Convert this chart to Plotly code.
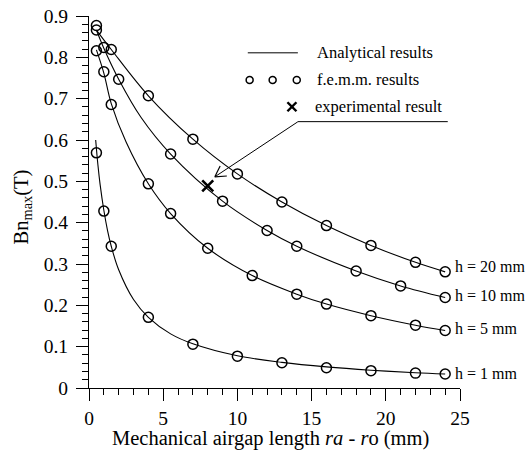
import plotly.graph_objects as go

# ---- data ----
# f.e.m.m. results
fem_x_h20 = [0.5, 1.5, 4, 7, 10, 13, 16, 19, 22, 24]
fem_y_h20 = [0.877, 0.819, 0.707, 0.602, 0.518, 0.450, 0.393, 0.345, 0.304, 0.281]
fem_x_h10 = [0.5, 1, 2, 5.5, 9, 12, 14, 18, 21, 24]
fem_y_h10 = [0.866, 0.824, 0.747, 0.566, 0.452, 0.381, 0.343, 0.283, 0.247, 0.219]
fem_x_h5 = [0.5, 1, 1.5, 4, 5.5, 8, 11, 14, 16, 19, 22, 24]
fem_y_h5 = [0.816, 0.765, 0.686, 0.494, 0.422, 0.338, 0.272, 0.227, 0.203, 0.175, 0.152, 0.139]
fem_x_h1 = [0.5, 1, 1.5, 4, 7, 10, 13, 16, 19, 22, 24]
fem_y_h1 = [0.569, 0.428, 0.343, 0.171, 0.106, 0.077, 0.061, 0.049, 0.042, 0.036, 0.034]

# analytical results
ana_x_h20 = [0.5, 1.5, 4, 7, 10, 13, 16, 19, 22, 24]
ana_y_h20 = [0.866, 0.819, 0.707, 0.602, 0.518, 0.450, 0.393, 0.345, 0.304, 0.281]
ana_x_h10 = [0.5, 1, 2, 3.5, 5.5, 9, 12, 14, 18, 21, 24]
ana_y_h10 = [0.866, 0.822, 0.747, 0.655, 0.566, 0.452, 0.381, 0.343, 0.283, 0.247, 0.219]
ana_x_h5 = [0.5, 1, 1.5, 2.5, 4, 5.5, 8, 11, 14, 16, 19, 22, 24]
ana_y_h5 = [0.818, 0.762, 0.688, 0.595, 0.494, 0.422, 0.338, 0.272, 0.227, 0.203, 0.175, 0.152, 0.139]
ana_x_h1 = [0.45, 0.6, 0.75, 1, 1.25, 1.5, 2, 3, 4, 5.5, 7, 10, 13, 16, 19, 22, 24]
ana_y_h1 = [0.600, 0.540, 0.492, 0.430, 0.381, 0.343, 0.286, 0.214, 0.171, 0.131, 0.107,
            0.078, 0.062, 0.051, 0.043, 0.037, 0.034]

# experimental result
exp_x = [8]
exp_y = [0.489]

curve_labels = ["h = 20 mm", "h = 10 mm", "h = 5 mm", "h = 1 mm"]
label_y = [0.293, 0.223, 0.143, 0.036]

y_tickvals = [0, 0.1, 0.2, 0.3, 0.4, 0.5, 0.6, 0.7, 0.8, 0.9]
y_ticktext = ["0", "0.1", "0.2", "0.3", "0.4", "0.5", "0.6", "0.7", "0.8", "0.9"]
x_tickvals = [0, 5, 10, 15, 20, 25]
x_ticktext = ["0", "5", "10", "15", "20", "25"]

FONT = "'Liberation Serif', 'Times New Roman', Times, serif"

fig = go.Figure()
for ax_, ay_ in [(ana_x_h20, ana_y_h20), (ana_x_h10, ana_y_h10),
                 (ana_x_h5, ana_y_h5), (ana_x_h1, ana_y_h1)]:
    fig.add_trace(go.Scatter(x=ax_, y=ay_, mode="lines",
                             line=dict(color="black", width=1.1, shape="spline", smoothing=1.0),
                             showlegend=False, hoverinfo="skip"))
for fx, fy in [(fem_x_h20, fem_y_h20), (fem_x_h10, fem_y_h10),
               (fem_x_h5, fem_y_h5), (fem_x_h1, fem_y_h1)]:
    fig.add_trace(go.Scatter(x=fx, y=fy, mode="markers",
                             marker=dict(symbol="circle-open", size=10, color="black",
                                         line=dict(width=1.5, color="black")),
                             showlegend=False))
fig.add_trace(go.Scatter(x=exp_x, y=exp_y, mode="markers",
                         marker=dict(symbol="x-thin-open", size=11, color="black",
                                     line=dict(width=2.6, color="black")),
                         showlegend=False))

annotations = []
for txt, yy in zip(curve_labels, label_y):
    annotations.append(dict(x=24.5, y=yy, xref="x", yref="y", text=txt, showarrow=False,
                            xanchor="left", yanchor="middle",
                            font=dict(family=FONT, size=16, color="black")))

# axis titles
annotations.append(dict(x=0.489, y=-0.137, xref="paper", yref="paper",
                        text="Mechanical airgap length <i>ra</i> - <i>r</i>o (mm)",
                        showarrow=False, xanchor="center", yanchor="middle",
                        font=dict(family=FONT, size=20.5, color="black")))
annotations.append(dict(x=-0.179, y=0.487, xref="paper", yref="paper",
                        text="Bn<sub>max</sub>(T)", textangle=-90,
                        showarrow=False, xanchor="center", yanchor="middle",
                        font=dict(family=FONT, size=20.5, color="black")))

# legend texts
leg_font = dict(family=FONT, size=16.5, color="black")
annotations.append(dict(x=0.609, y=0.901, xref="paper", yref="paper", text="Analytical results",
                        showarrow=False, xanchor="left", yanchor="middle", font=leg_font))
annotations.append(dict(x=0.609, y=0.828, xref="paper", yref="paper", text="f.e.m.m. results",
                        showarrow=False, xanchor="left", yanchor="middle", font=leg_font))
annotations.append(dict(x=0.603, y=0.756, xref="paper", yref="paper", text="experimental result",
                        showarrow=False, xanchor="left", yanchor="middle", font=leg_font))

shapes = []
# legend line sample
shapes.append(dict(type="line", xref="paper", yref="paper", x0=0.428, x1=0.563,
                   y0=0.901, y1=0.901, line=dict(color="black", width=1)))
# legend circles
for cx in [0.433, 0.495, 0.560]:
    shapes.append(dict(type="circle", xref="paper", yref="paper", xsizemode="pixel",
                       ysizemode="pixel", xanchor=cx, yanchor=0.828, x0=-3.5, x1=3.5,
                       y0=-3.5, y1=3.5, line=dict(color="black", width=1.5)))
# legend X
for s in (1, -1):
    shapes.append(dict(type="line", xref="paper", yref="paper", xsizemode="pixel",
                       ysizemode="pixel", xanchor=0.547, yanchor=0.756, x0=-4.5, x1=4.5,
                       y0=-4.5 * s, y1=4.5 * s, line=dict(color="black", width=2.4)))
# underline of the callout
shapes.append(dict(type="line", xref="paper", yref="paper", x0=0.563, x1=0.967,
                   y0=0.716, y1=0.716, line=dict(color="black", width=1)))
# callout arrow (shaft + open V head), anchored at the arrow tip
tip_x, tip_y = 8.48, 0.511
shapes.append(dict(type="line", xref="x", yref="y", xsizemode="pixel", ysizemode="pixel",
                   xanchor=tip_x, yanchor=tip_y, x0=0, y0=0, x1=83, y1=55,
                   line=dict(color="black", width=1)))
for hx, hy in [(12, 0.8), (5.3, 10.8)]:
    shapes.append(dict(type="line", xref="x", yref="y", xsizemode="pixel", ysizemode="pixel",
                       xanchor=tip_x, yanchor=tip_y, x0=0, y0=0, x1=hx, y1=hy,
                       line=dict(color="black", width=1.2)))

fig.update_layout(
    width=532, height=458,
    margin=dict(l=89, r=72, t=16, b=70),
    paper_bgcolor="white", plot_bgcolor="white",
    font=dict(family=FONT, size=19.5, color="black"),
    showlegend=False,
    annotations=annotations,
    shapes=shapes,
)
fig.update_xaxes(range=[0, 25], tickmode="array", tickvals=x_tickvals, ticktext=x_ticktext,
                 automargin=False, showgrid=False, zeroline=False,
                 showline=True, linecolor="black", linewidth=1.2,
                 ticks="outside", ticklen=12, tickwidth=1.2, tickcolor="black",
                 ticklabelstandoff=0, ticklabeloverflow="allow",
                 tickfont=dict(family=FONT, size=19.5, color="black"),
                 minor=dict(dtick=1, tick0=0, ticks="outside", ticklen=6, tickwidth=1,
                            tickcolor="black"))
fig.update_yaxes(range=[0, 0.9], tickmode="array", tickvals=y_tickvals, ticktext=y_ticktext,
                 automargin=False, showgrid=False, zeroline=False,
                 showline=True, linecolor="black", linewidth=1.2,
                 ticks="outside", ticklen=12, tickwidth=1.2, tickcolor="black",
                 ticklabelstandoff=4, ticklabeloverflow="allow",
                 tickfont=dict(family=FONT, size=19.5, color="black"),
                 minor=dict(dtick=0.02, tick0=0, ticks="outside", ticklen=6, tickwidth=1,
                            tickcolor="black"))

# remove the default page margin so the figure sits at the window's top-left corner
fig.write_html("out.html", config={"displayModeBar": False},
               post_script="document.body.style.margin='0';document.body.style.overflow='hidden';")
